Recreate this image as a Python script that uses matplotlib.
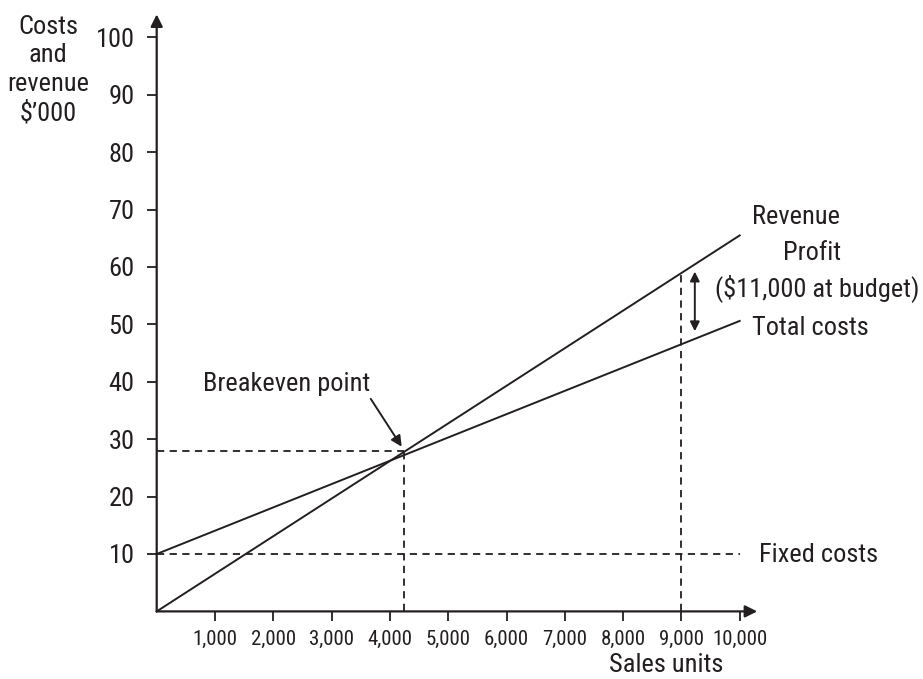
import matplotlib.pyplot as plt
from matplotlib import font_manager

# pick a condensed face if one is installed
installed = {f.name for f in font_manager.fontManager.ttflist}
condensed = [n for n in ['Roboto Condensed', 'Liberation Sans Narrow', 'Archivo Narrow',
                         'PT Sans Narrow', 'Open Sans Condensed'] if n in installed]
if condensed:
    plt.rcParams['font.family'] = [condensed[0], 'DejaVu Sans']
    big, small = 19, 15
else:
    plt.rcParams['font.family'] = ['Roboto', 'DejaVu Sans']
    big, small = 16, 12.5

# data ($'000 against sales units)
units = [0, 10000]
revenue = [0, 65.5]
total_costs = [10, 50.6]
fixed_costs = [10, 10]
breakeven_units = 4250
breakeven_value = 28
budget_units = 9000
budget_revenue = 59.5
budget_costs = 48.8

xticks = [1000, 2000, 3000, 4000, 5000, 6000, 7000, 8000, 9000, 10000]
yticks = [10, 20, 30, 40, 50, 60, 70, 80, 90, 100]

ink = '#231f20'

fig = plt.figure(figsize=(9.23, 6.79), dpi=100)
ax = fig.add_axes([156.7 / 923, 67.6 / 679, 600.5 / 923, 597 / 679])
ax.set_xlim(0, 10300)
ax.set_ylim(0, 104)
for s in ax.spines.values():
    s.set_visible(False)

# axes with arrow heads
arrow_kw = dict(arrowstyle='-|>', lw=1.6, color=ink, mutation_scale=18, shrinkA=0, shrinkB=0)
ax.annotate('', xy=(10300, 0), xytext=(0, 0), arrowprops=arrow_kw, annotation_clip=False)
ax.annotate('', xy=(0, 104), xytext=(0, 0), arrowprops=arrow_kw, annotation_clip=False)

ax.set_xticks(xticks)
ax.set_xticklabels([f'{v:,}' for v in xticks])
ax.set_yticks(yticks)
ax.tick_params(axis='both', direction='out', length=7, width=1.3, color=ink, labelcolor=ink)
ax.tick_params(axis='y', labelsize=big, pad=9)
ax.tick_params(axis='x', labelsize=small, pad=6)

# lines
ax.plot(units, revenue, color=ink, lw=1.4, clip_on=False)
ax.plot(units, total_costs, color=ink, lw=1.4, clip_on=False)
dash = (0, (4, 3))
ax.plot(units, fixed_costs, color=ink, lw=1.3, ls=dash)
ax.plot([0, breakeven_units], [breakeven_value, breakeven_value], color=ink, lw=1.3, ls=dash)
ax.plot([breakeven_units, breakeven_units], [0, breakeven_value], color=ink, lw=1.3, ls=dash)
ax.plot([budget_units, budget_units], [0, budget_revenue], color=ink, lw=1.3, ls=dash)

# profit double arrow
ax.annotate('', xy=(9230, budget_revenue - 0.3), xytext=(9230, budget_costs),
            arrowprops=dict(arrowstyle='<|-|>', lw=1.4, color=ink, mutation_scale=14,
                            shrinkA=0, shrinkB=0))

# breakeven arrow
ax.annotate('Breakeven point', xy=(4202, 28.7), xytext=(2237, 39.6),
            ha='center', va='center', fontsize=big, color=ink,
            arrowprops=dict(arrowstyle='-|>', lw=1.4, color=ink, mutation_scale=16,
                            shrinkA=0, shrinkB=0, relpos=(0.98, 0.1)))

# labels
ax.text(10970, 68.7, 'Revenue', ha='center', va='center', fontsize=big, color=ink)
ax.text(11240, 62.4, 'Profit', ha='center', va='center', fontsize=big, color=ink)
ax.text(11323, 56.3, '($11,000 at budget)', ha='center', va='center', fontsize=big, color=ink)
ax.text(10209, 49.4, 'Total costs', ha='left', va='center', fontsize=big, color=ink)
ax.text(10331, 9.8, 'Fixed costs', ha='left', va='center', fontsize=big, color=ink)
ax.text(8739, -9.3, 'Sales units', ha='center', va='center', fontsize=big, color=ink)
ax.text(-1863, 94.3, "Costs\nand\nrevenue\n$\u2019000", ha='center', va='center',
        fontsize=big, color=ink, linespacing=1.25)

fig.savefig('out.png', dpi=100)
